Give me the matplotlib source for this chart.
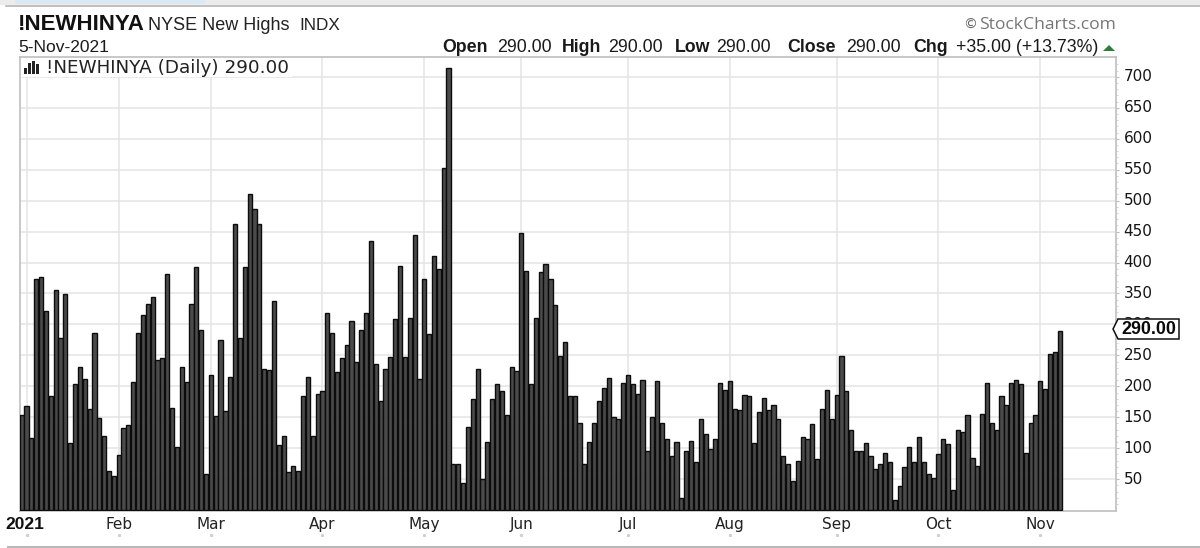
import matplotlib
matplotlib.use("Agg")
import matplotlib.pyplot as plt
from matplotlib.patches import Polygon, Rectangle
from matplotlib.lines import Line2D
from matplotlib.transforms import ScaledTranslation

values = [154,168,117,374,376,321,185,355,278,349,108,204,231,212,163,286,149,119,64,55,
          89,132,138,207,286,316,333,344,242,245,382,165,102,231,207,333,393,291,59,
          218,152,275,160,215,462,278,393,511,486,462,228,226,338,105,119,61,72,64,185,215,119,187,
          193,319,286,223,245,267,305,239,291,319,434,236,176,228,248,308,395,248,311,445,212,
          373,285,411,389,552,714,74,74,44,135,179,228,50,110,179,204,192,154,231,225,
          448,387,204,311,384,398,373,332,249,271,184,184,140,74,110,140,176,198,214,151,148,
          206,219,203,187,211,96,151,208,140,115,88,110,19,96,112,77,148,123,98,115,205,194,
          208,164,162,186,184,109,159,181,162,170,148,88,74,47,80,118,115,139,82,164,194,148,
          186,249,192,129,96,96,109,88,66,74,93,77,17,39,69,102,77,118,77,58,52,
          91,115,107,33,129,126,153,85,72,156,206,140,129,184,170,206,211,203,93,140,153,
          208,195,253,255,290]
month_labels = ["2021","Feb","Mar","Apr","May","Jun","Jul","Aug","Sep","Oct","Nov"]
month_index = [1,20,39,62,83,103,125,146,168,189,210]
y_ticks = [50,100,150,200,250,300,350,400,450,500,550,600,650,700]
last_close = "290.00"

W, H = 1200, 548
fig = plt.figure(figsize=(W/100, H/100), dpi=100, facecolor="white")
def fx(x): return x/W
def fy(y): return 1-y/H

L, R, T, B = 20, 1116, 57, 511
ax = fig.add_axes([fx(L), fy(B), (R-L)/W, (B-T)/H])
ax.set_xlim(-0.35, 225.6)
ax.set_ylim(-1.4, 732)
ax.set_axisbelow(True)
ax.bar(range(len(values)), values, width=0.86, facecolor=(0.27,0.27,0.27,0.97),
       edgecolor="#0c0c0c", linewidth=1.0, zorder=3)

GRID = "#e4e4e4"
ax.set_yticks(y_ticks)
ax.set_yticks(range(10, 730, 10), minor=True)
ax.set_xticks(month_index)
ax.set_xticklabels(month_labels)
ax.grid(True, which="major", color=GRID, linewidth=1.1, zorder=0)
ax.yaxis.tick_right()
ax.tick_params(axis="y", which="major", length=2.5, color="#bbbbbb", labelsize=11, pad=3, labelcolor="#151515")
ax.tick_params(axis="y", which="minor", length=1.5, color="#cccccc")
ax.tick_params(axis="x", length=0, labelsize=11, pad=4, labelcolor="#222222")
up = ScaledTranslation(0, 1.5/100, fig.dpi_scale_trans)
for lab in ax.get_yticklabels():
    lab.set_transform(lab.get_transform() + up)
for lab in ax.get_xticklabels():
    lab.set_family("DejaVu Sans")
first = ax.get_xticklabels()[0]
first.set_fontweight("bold")
first.set_fontsize(12.5)
first.set_family("Liberation Sans")
first.set_color("#111111")
first.set_transform(first.get_transform() + ScaledTranslation(-2/100, 0, fig.dpi_scale_trans))
for s in ax.spines.values():
    s.set_color("#c4c4c4"); s.set_linewidth(1.3)
# small tick dots below the month labels
ax.plot(month_index, [-0.053]*len(month_index), ls="none", marker="s", ms=1.2, color="#d0d0d0",
        transform=ax.get_xaxis_transform(), clip_on=False)

def T_(x, y, s, **kw):
    kw.setdefault("va", "center"); kw.setdefault("ha", "left")
    kw.setdefault("family", "Liberation Sans"); kw.setdefault("color", "#1a1a1a")
    return fig.text(fx(x), fy(y), s, **kw)

# window chrome
fig.add_artist(Rectangle((0, fy(5)), 1, 5/H, transform=fig.transFigure, fc="#ececec", ec="none"))
fig.add_artist(Rectangle((fx(15), fy(3.5)), 190/W, 3.5/H, transform=fig.transFigure, fc="#dbe9f5", ec="none"))
fig.add_artist(Line2D([fx(6), 1], [fy(5.5), fy(5.5)], color="#b5b5b5", lw=1.2))
fig.add_artist(Line2D([fx(8), 1], [fy(546.5), fy(546.5)], color="#b5b5b5", lw=1.4))

# title rows
T_(18, 24, "!NEWHINYA", fontsize=16, fontweight="bold", color="#111111")
T_(148, 25, "NYSE New Highs", fontsize=13, color="#222222")
T_(299, 25, "INDX", fontsize=12.3, color="#222222")
T_(18, 47, "5-Nov-2021", fontsize=12.5)
T_(963, 25, "©", fontsize=10, family="DejaVu Sans", color="#666666")
T_(979, 25, "StockCharts.com", fontsize=12.6, family="Open Sans", color="#777777")

hdr = [(442,"Open",True),(497,"290.00",False),(562,"High",True),(608,"290.00",False),
       (675,"Low",True),(716,"290.00",False),(787,"Close",True),(846,"290.00",False),
       (913,"Chg",True),(956,"+35.00 (+13.73%)",False)]
for x, s, b in hdr:
    T_(x, 47, s, fontsize=12.8, fontweight="bold" if b else "normal")
fig.add_artist(Polygon([[fx(1103),fy(51)],[fx(1115),fy(51)],[fx(1109),fy(45)]], closed=True,
                       transform=fig.transFigure, fc="#2f7d3a", ec="none"))

# legend with white backing and bar icon
fig.add_artist(Rectangle((fx(21), fy(76.5)), 271/W, 19/H, transform=fig.transFigure, fc="white", ec="none", zorder=5))
for x0, h in [(24,6),(28,11),(32,13),(36,10)]:
    fig.add_artist(Rectangle((fx(x0), fy(74)), 3/W, h/H, transform=fig.transFigure, fc="#222222", ec="none", zorder=6))
T_(46, 68, "!NEWHINYA (Daily) "+last_close, fontsize=13.2, family="DejaVu Sans", color="#222222", zorder=6)

# last value tag
tag = Polygon([[fx(1113),fy(329)],[fx(1118),fy(319)],[fx(1179),fy(319)],[fx(1179),fy(339)],[fx(1118),fy(339)]],
              closed=True, transform=fig.transFigure, fc="white", ec="#111111", lw=1.1, zorder=8)
fig.add_artist(tag)
T_(1121, 329.5, last_close, fontsize=12.9, fontweight="bold", color="#0a0a0a", zorder=9)

fig.savefig("out.png", dpi=100)
